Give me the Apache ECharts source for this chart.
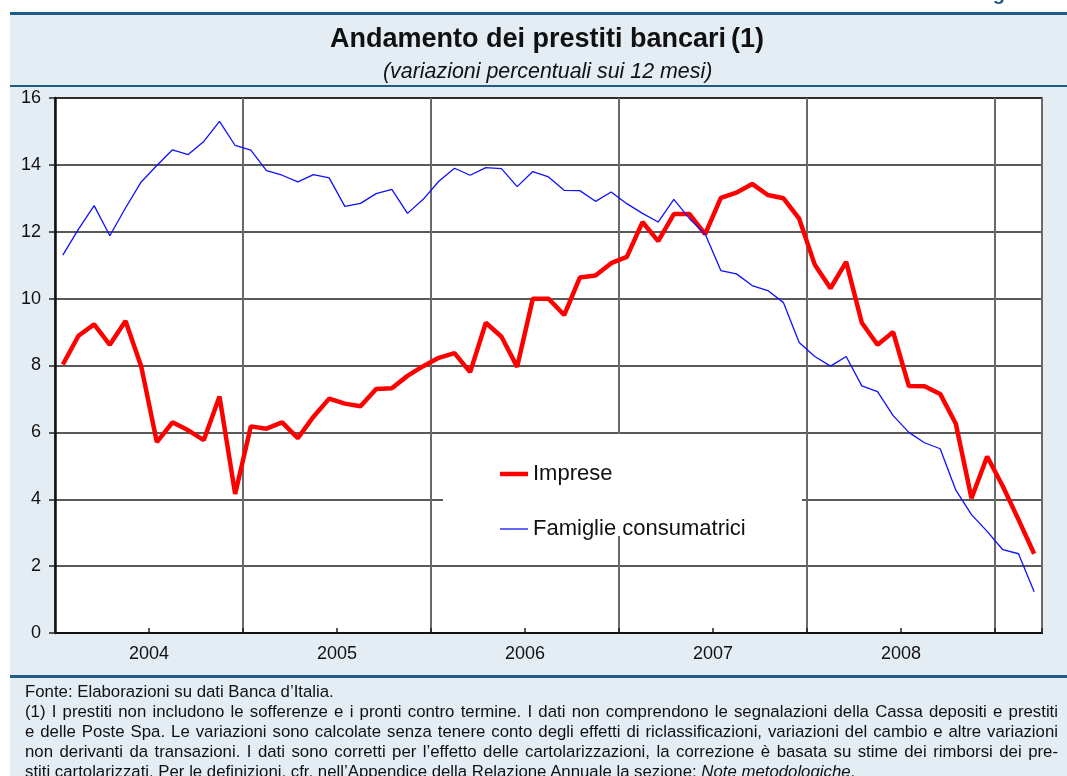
<!DOCTYPE html>
<html>
<head>
<meta charset="utf-8">
<title>Andamento dei prestiti bancari</title>
<script src="https://cdn.jsdelivr.net/npm/echarts@6/dist/echarts.min.js"></script>
<style>
  body { margin:0; background:#fff; font-family:"Liberation Sans", Arial, sans-serif; }
  #panel { position:absolute; left:10px; top:12px; width:1057px; height:764px; background:#e4ecf4; border-top:3px solid #1f5d86; }
  .rule { position:absolute; left:10px; width:1057px; background:#1f5d86; }
  #main { position:absolute; left:0; top:0; width:1067px; height:776px; }
  #note { position:absolute; left:25px; top:682px; width:1033px; font-size:16.8px; line-height:20px; color:#111; }
  #note .j { text-align:justify; text-align-last:justify; }
</style>
</head>
<body>
<div id="panel"></div>
<div class="rule" style="top:85px;height:2px"></div>
<div class="rule" style="top:675px;height:3px"></div>
<div id="main"></div>
<div id="note">
  <div>Fonte: Elaborazioni su dati Banca d’Italia.</div>
  <div class="j">(1) I prestiti non includono le sofferenze e i pronti contro termine. I dati non comprendono le segnalazioni della Cassa depositi e prestiti</div>
  <div class="j">e delle Poste Spa. Le variazioni sono calcolate senza tenere conto degli effetti di riclassificazioni, variazioni del cambio e altre variazioni</div>
  <div class="j">non derivanti da transazioni. I dati sono corretti per l’effetto delle cartolarizzazioni, la correzione è basata su stime dei rimborsi dei pre-</div>
  <div>stiti cartolarizzati. Per le definizioni, cfr. nell’Appendice della Relazione Annuale la sezione: <i>Note metodologiche</i>.</div>
</div>
<script>
    // dati mensili gen 2004 - mar 2009
    var anni = ['2004', '2005', '2006', '2007', '2008'];
    var imprese = [8.03, 8.89, 9.23, 8.62, 9.33, 7.98, 5.71, 6.30, 6.06, 5.77, 7.07, 4.16,
        6.18, 6.11, 6.30, 5.83, 6.47, 7.01, 6.86, 6.78, 7.30, 7.32, 7.69, 7.98,
        8.23, 8.37, 7.80, 9.28, 8.86, 7.96, 10.00, 10.00, 9.51, 10.63, 10.69, 11.06,
        11.25, 12.29, 11.72, 12.53, 12.53, 11.93, 13.01, 13.17, 13.43, 13.10, 13.00, 12.39,
        11.01, 10.31, 11.10, 9.28, 8.62, 9.00, 7.39, 7.38, 7.15, 6.26, 4.03, 5.28,
        4.39, 3.39, 2.37];
    var famiglie = [11.30, 12.08, 12.78, 11.88, 12.71, 13.49, 13.98, 14.45, 14.31, 14.70, 15.30, 14.58,
        14.44, 13.83, 13.69, 13.49, 13.71, 13.61, 12.76, 12.85, 13.14, 13.27, 12.55, 12.97,
        13.51, 13.90, 13.69, 13.92, 13.89, 13.35, 13.80, 13.64, 13.24, 13.23, 12.91, 13.19,
        12.84, 12.55, 12.29, 12.97, 12.39, 11.93, 10.84, 10.74, 10.39, 10.24, 9.88, 8.69,
        8.27, 7.98, 8.27, 7.39, 7.22, 6.50, 6.00, 5.69, 5.51, 4.27, 3.54, 3.04,
        2.49, 2.37, 1.23];

    function mesi(arr) {
        return arr.map(function (v, i) { return [i + 0.5, v]; });
    }

    var font = '"Liberation Sans", Arial, sans-serif';
    var chart = echarts.init(document.getElementById('main'));
    chart.setOption({
        animation: false,
        textStyle: { fontFamily: font, color: '#111' },
        title: [
            {
                text: '{b|Andamento dei prestiti bancari} {n|(1)}',
                left: 325,
                top: 21,
                textStyle: {
                    rich: {
                        b: { fontSize: 27, fontWeight: 'bold', color: '#111', fontFamily: font },
                        n: { fontSize: 27, color: '#111', fontFamily: font }
                    }
                }
            },
            {
                text: '(variazioni percentuali sui 12 mesi)',
                left: 378,
                top: 57,
                textStyle: { fontSize: 21.4, fontStyle: 'italic', fontWeight: 'normal', color: '#111', fontFamily: font }
            }
        ],
        graphic: [
            {
                type: 'text', x: 1036, y: 4, silent: true,
                style: { text: 'Figura', font: 'bold 20px ' + font, fill: '#1f5d86', align: 'right', verticalAlign: 'bottom' }
            },
            {
                // riquadro bianco della legenda
                type: 'rect', z: 1, silent: true,
                shape: { x: 443, y: 434, width: 359, height: 102 },
                style: { fill: '#fff' }
            }
        ],
        legend: {
            orient: 'vertical',
            left: 495,
            top: 458,
            itemWidth: 28,
            itemHeight: 14,
            itemGap: 33,
            data: [
                { name: 'Imprese', icon: 'path://M0,0L28,0L28,4.5L0,4.5Z' },
                { name: 'Famiglie consumatrici', icon: 'path://M0,0L28,0L28,1.3L0,1.3Z' }
            ],
            textStyle: { fontSize: 22, color: '#111', fontFamily: font }
        },
        grid: {
            left: 55, right: 25, top: 98, bottom: 143,
            show: true, backgroundColor: '#fff', borderColor: '#222', borderWidth: 1.5
        },
        xAxis: [
            {
                type: 'value', min: 0, max: 63, interval: 12,
                axisLine: { show: true, onZero: false, lineStyle: { color: '#111', width: 2 } },
                axisTick: { show: false },
                axisLabel: { show: false },
                splitLine: { show: true, lineStyle: { color: '#6a6a6a', width: 2 } }
            },
            {
                // tacche ed etichette degli anni a metà anno
                type: 'value', min: 0, max: 63, interval: 6, position: 'bottom',
                axisLine: { show: false },
                axisTick: { show: true, inside: true, length: 5, lineStyle: { color: '#222', width: 1.5 } },
                axisLabel: {
                    fontSize: 18, color: '#111', margin: 12, fontFamily: font,
                    showMinLabel: true, showMaxLabel: true,
                    formatter: function (v) {
                        var k = (v - 6) / 12;
                        return (k >= 0 && k < anni.length && k === Math.round(k)) ? anni[k] : '';
                    }
                },
                splitLine: { show: false }
            }
        ],
        yAxis: {
            type: 'value', min: 0, max: 16, interval: 2,
            axisLine: { show: true, lineStyle: { color: '#111', width: 2.5 } },
            axisTick: { show: true, length: 6, lineStyle: { color: '#222', width: 1.5 } },
            axisLabel: { fontSize: 18, color: '#111', margin: 14, fontFamily: font },
            splitLine: { show: true, lineStyle: { color: '#222', width: 1.5 } }
        },
        series: [
            {
                name: 'Imprese',
                type: 'line',
                xAxisIndex: 0,
                symbol: 'none',
                lineStyle: { color: '#ff0000', width: 4.5 },
                itemStyle: { color: '#ff0000' },
                data: mesi(imprese)
            },
            {
                name: 'Famiglie consumatrici',
                type: 'line',
                xAxisIndex: 0,
                symbol: 'none',
                lineStyle: { color: '#1010ff', width: 1.3 },
                itemStyle: { color: '#1010ff' },
                data: mesi(famiglie)
            }
        ]
    });
</script>
</body>
</html>
